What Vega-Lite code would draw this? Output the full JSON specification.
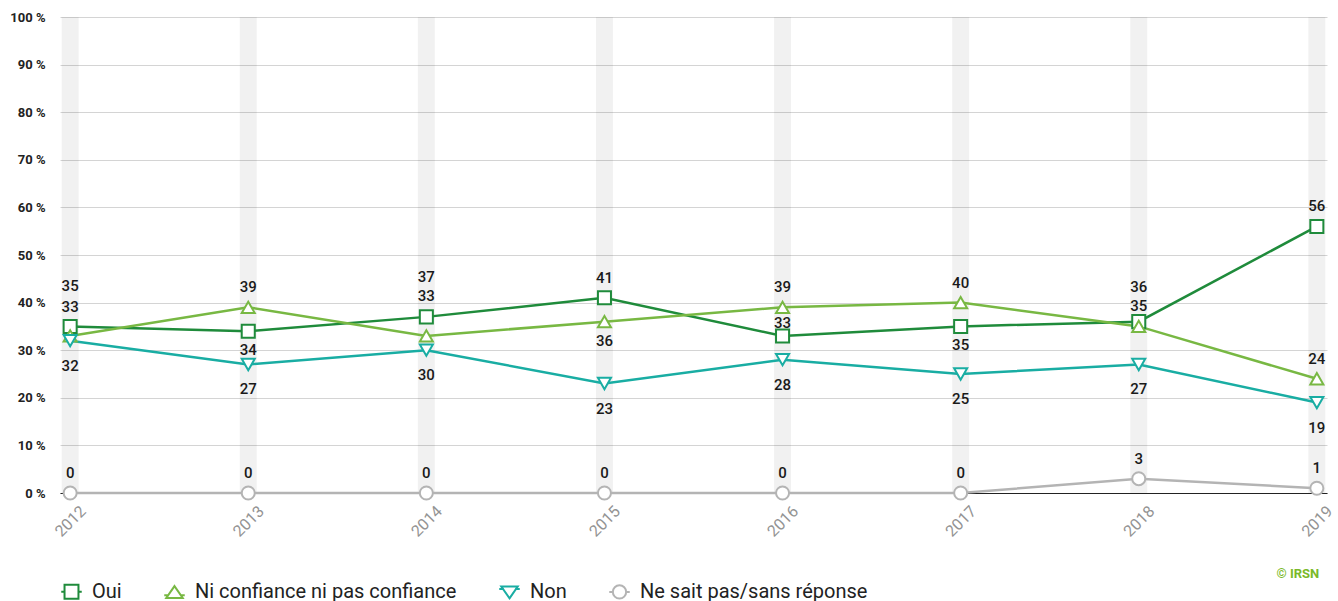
{
  "$schema": "https://vega.github.io/schema/vega-lite/v6.json",
  "width": 1267,
  "height": 476,
  "autosize": {"type": "none"},
  "padding": {"left": 60, "top": 17, "right": 11, "bottom": 108},
  "background": "white",
  "config": {
    "font": "Roboto",
    "view": {"stroke": null}
  },
  "title": {
    "text": "© IRSN",
    "orient": "bottom",
    "anchor": "end",
    "color": "#7ab929",
    "fontSize": 13,
    "fontWeight": "bold",
    "font": "Roboto",
    "offset": -35,
    "dx": -16
  },
  "resolve": {"scale": {"color": "independent", "shape": "independent"}},
  "data": {
    "values": [
      {"year": 2012, "serie": "Oui", "value": 35},
      {"year": 2013, "serie": "Oui", "value": 34},
      {"year": 2014, "serie": "Oui", "value": 37},
      {"year": 2015, "serie": "Oui", "value": 41},
      {"year": 2016, "serie": "Oui", "value": 33},
      {"year": 2017, "serie": "Oui", "value": 35},
      {"year": 2018, "serie": "Oui", "value": 36},
      {"year": 2019, "serie": "Oui", "value": 56},
      {"year": 2012, "serie": "Ni confiance ni pas confiance", "value": 33},
      {"year": 2013, "serie": "Ni confiance ni pas confiance", "value": 39},
      {"year": 2014, "serie": "Ni confiance ni pas confiance", "value": 33},
      {"year": 2015, "serie": "Ni confiance ni pas confiance", "value": 36},
      {"year": 2016, "serie": "Ni confiance ni pas confiance", "value": 39},
      {"year": 2017, "serie": "Ni confiance ni pas confiance", "value": 40},
      {"year": 2018, "serie": "Ni confiance ni pas confiance", "value": 35},
      {"year": 2019, "serie": "Ni confiance ni pas confiance", "value": 24},
      {"year": 2012, "serie": "Non", "value": 32},
      {"year": 2013, "serie": "Non", "value": 27},
      {"year": 2014, "serie": "Non", "value": 30},
      {"year": 2015, "serie": "Non", "value": 23},
      {"year": 2016, "serie": "Non", "value": 28},
      {"year": 2017, "serie": "Non", "value": 25},
      {"year": 2018, "serie": "Non", "value": 27},
      {"year": 2019, "serie": "Non", "value": 19},
      {"year": 2012, "serie": "Ne sait pas/sans réponse", "value": 0},
      {"year": 2013, "serie": "Ne sait pas/sans réponse", "value": 0},
      {"year": 2014, "serie": "Ne sait pas/sans réponse", "value": 0},
      {"year": 2015, "serie": "Ne sait pas/sans réponse", "value": 0},
      {"year": 2016, "serie": "Ne sait pas/sans réponse", "value": 0},
      {"year": 2017, "serie": "Ne sait pas/sans réponse", "value": 0},
      {"year": 2018, "serie": "Ne sait pas/sans réponse", "value": 3},
      {"year": 2019, "serie": "Ne sait pas/sans réponse", "value": 1}
    ]
  },
  "encoding": {
    "x": {
      "field": "year",
      "type": "ordinal",
      "scale": {"type": "point", "padding": 0.057},
      "axis": {
        "title": null,
        "labelAngle": -45,
        "labelAlign": "center",
        "labelBaseline": "middle",
        "labelPadding": 28,
        "labelColor": "#939393",
        "labelFontSize": 16,
        "labelFont": "Roboto",
        "ticks": false,
        "grid": false,
        "domain": true,
        "domainColor": "#222222",
        "domainWidth": 1,
        "zindex": 0
      }
    }
  },
  "layer": [
    {
      "transform": [{"filter": "datum.serie === 'Oui'"}],
      "mark": {"type": "rule", "strokeWidth": 17, "color": "#000000", "opacity": 0.055},
      "encoding": {}
    },
    {
      "mark": {"type": "line", "strokeWidth": 2.5},
      "encoding": {
        "y": {
          "field": "value",
          "type": "quantitative",
          "scale": {"domain": [0, 100], "nice": false},
          "axis": {
            "title": null,
            "values": [0, 10, 20, 30, 40, 50, 60, 70, 80, 90, 100],
            "labelExpr": "datum.value + ' %'",
            "labelFontSize": 13,
            "labelFontWeight": "bold",
            "labelColor": "#222222",
            "labelFont": "Roboto",
            "labelPadding": 15,
            "ticks": false,
            "domain": false,
            "gridColor": "#d4d4d4",
            "gridWidth": 1
          }
        },
        "color": {
          "field": "serie",
          "type": "nominal",
          "legend": null,
          "scale": {
            "domain": ["Oui", "Ni confiance ni pas confiance", "Non", "Ne sait pas/sans réponse"],
            "range": ["#1f8b3b", "#78b843", "#19ada3", "#b4b4b4"]
          }
        },
        "order": {"field": "year"}
      }
    },
    {
      "mark": {"type": "point", "filled": false, "fill": "white", "strokeWidth": 2, "size": 170, "opacity": 1},
      "encoding": {
        "y": {"field": "value", "type": "quantitative"},
        "color": {
          "field": "serie",
          "type": "nominal",
          "legend": null,
          "scale": {
            "domain": ["Oui", "Ni confiance ni pas confiance", "Non", "Ne sait pas/sans réponse"],
            "range": ["#1f8b3b", "#78b843", "#19ada3", "#b4b4b4"]
          }
        },
        "shape": {
          "field": "serie",
          "type": "nominal",
          "legend": null,
          "scale": {
            "domain": ["Oui", "Ni confiance ni pas confiance", "Non", "Ne sait pas/sans réponse"],
            "range": ["square", "triangle-up", "triangle-down", "circle"]
          }
        }
      }
    },
    {
      "transform": [{"filter": "datum.value < 0"}],
      "mark": {"type": "point", "filled": false, "fill": "white", "strokeWidth": 2, "size": 420, "opacity": 1},
      "encoding": {
        "y": {"field": "value", "type": "quantitative"},
        "color": {
          "field": "serie",
          "type": "nominal",
          "scale": {
            "domain": ["Oui", "Ni confiance ni pas confiance", "Non", "Ne sait pas/sans réponse"],
            "range": ["#1f8b3b", "#78b843", "#19ada3", "#b4b4b4"]
          },
          "legend": {
            "title": null,
            "orient": "none",
            "direction": "horizontal",
            "legendX": 0,
            "legendY": 563,
            "labelFontSize": 20,
            "labelColor": "#222222",
            "labelFont": "Roboto",
            "labelLimit": 600,
            "symbolSize": 420,
            "symbolStrokeWidth": 2,
            "symbolFillColor": "white",
            "symbolOpacity": 1,
            "columnPadding": 38,
            "labelOffset": 9
          }
        },
        "shape": {
          "field": "serie",
          "type": "nominal",
          "scale": {
            "domain": ["Oui", "Ni confiance ni pas confiance", "Non", "Ne sait pas/sans réponse"],
            "range": [
              "M-1,0H-0.68M0.68,0H1M-0.68,-0.68H0.68V0.68H-0.68Z",
              "M-1,0.3H-0.55M0.55,0.3H1M0,-0.6L0.8,0.55H-0.8Z",
              "M-1,-0.3H-0.55M0.55,-0.3H1M0,0.6L0.8,-0.55H-0.8Z",
              "M-1,0H-0.65M0.65,0H1M-0.65,0A0.65,0.65,0,1,1,0.65,0A0.65,0.65,0,1,1,-0.65,0Z"
            ]
          },
          "legend": {
            "title": null,
            "orient": "none",
            "direction": "horizontal",
            "legendX": 0,
            "legendY": 563,
            "labelFontSize": 20,
            "labelColor": "#222222",
            "labelFont": "Roboto",
            "labelLimit": 600,
            "symbolSize": 420,
            "symbolStrokeWidth": 2,
            "symbolFillColor": "white",
            "symbolOpacity": 1,
            "columnPadding": 38,
            "labelOffset": 9
          }
        }
      }
    },
    {
      "transform": [{"filter": "(datum.serie === 'Ni confiance ni pas confiance' && indexof([2013, 2016, 2017, 2018, 2019], datum.year) >= 0) || (datum.serie === 'Oui' && indexof([2015, 2019], datum.year) >= 0) || datum.serie === 'Ne sait pas/sans réponse'"}],
      "mark": {"type": "text", "dy": -20, "fontSize": 15, "fontWeight": 500, "color": "#1a1a1a", "font": "Roboto"},
      "encoding": {"y": {"field": "value", "type": "quantitative"}, "text": {"field": "value", "type": "quantitative"}}
    },
    {
      "transform": [{"filter": "(datum.serie === 'Oui' && indexof([2012, 2014], datum.year) >= 0) || (datum.serie === 'Ni confiance ni pas confiance' && datum.year === 2014)"}],
      "mark": {"type": "text", "dy": -40, "fontSize": 15, "fontWeight": 500, "color": "#1a1a1a", "font": "Roboto"},
      "encoding": {"y": {"field": "value", "type": "quantitative"}, "text": {"field": "value", "type": "quantitative"}}
    },
    {
      "transform": [{"filter": "datum.serie === 'Oui' && datum.year === 2018"}],
      "mark": {"type": "text", "dy": -35, "fontSize": 15, "fontWeight": 500, "color": "#1a1a1a", "font": "Roboto"},
      "encoding": {"y": {"field": "value", "type": "quantitative"}, "text": {"field": "value", "type": "quantitative"}}
    },
    {
      "transform": [{"filter": "datum.serie === 'Ni confiance ni pas confiance' && datum.year === 2012"}],
      "mark": {"type": "text", "dy": -29, "fontSize": 15, "fontWeight": 500, "color": "#1a1a1a", "font": "Roboto"},
      "encoding": {"y": {"field": "value", "type": "quantitative"}, "text": {"field": "value", "type": "quantitative"}}
    },
    {
      "transform": [{"filter": "datum.serie === 'Oui' && datum.year === 2016"}],
      "mark": {"type": "text", "dy": -13, "fontSize": 15, "fontWeight": 500, "color": "#1a1a1a", "font": "Roboto"},
      "encoding": {"y": {"field": "value", "type": "quantitative"}, "text": {"field": "value", "type": "quantitative"}}
    },
    {
      "transform": [{"filter": "(datum.serie === 'Oui' && indexof([2013, 2017], datum.year) >= 0) || (datum.serie === 'Ni confiance ni pas confiance' && datum.year === 2015)"}],
      "mark": {"type": "text", "dy": 19, "fontSize": 15, "fontWeight": 500, "color": "#1a1a1a", "font": "Roboto"},
      "encoding": {"y": {"field": "value", "type": "quantitative"}, "text": {"field": "value", "type": "quantitative"}}
    },
    {
      "transform": [{"filter": "datum.serie === 'Non'"}],
      "mark": {"type": "text", "dy": 25, "fontSize": 15, "fontWeight": 500, "color": "#1a1a1a", "font": "Roboto"},
      "encoding": {"y": {"field": "value", "type": "quantitative"}, "text": {"field": "value", "type": "quantitative"}}
    }
  ]
}
